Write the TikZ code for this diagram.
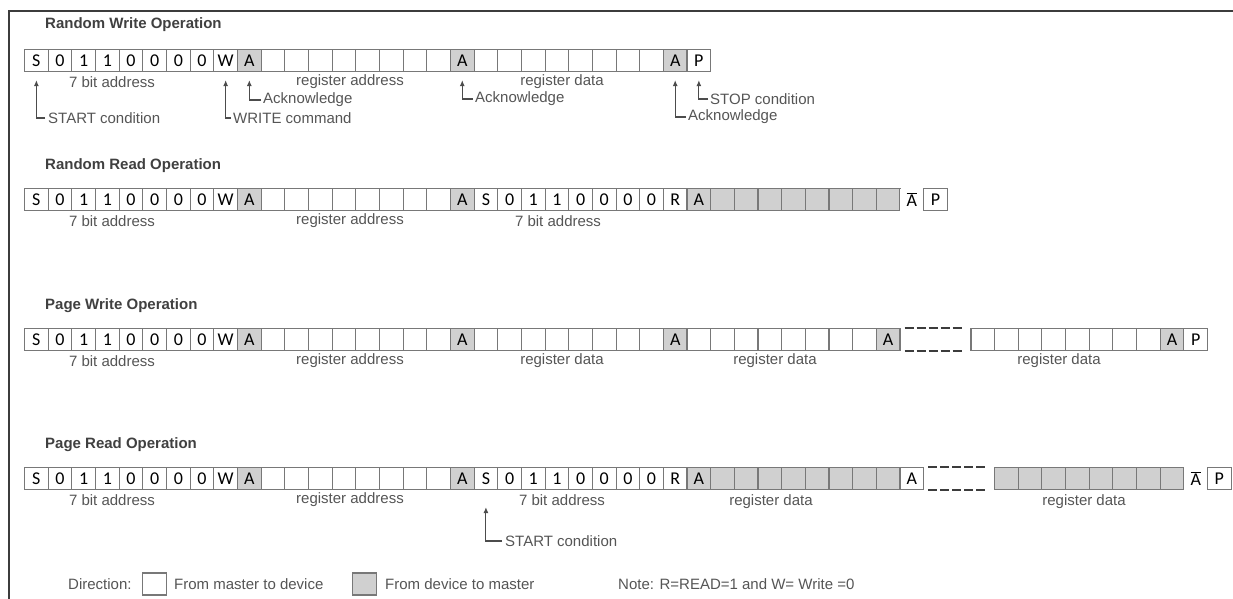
\documentclass[tikz,border=0pt]{standalone}
\usepackage{fontspec}
\setmainfont{Liberation Sans}
\newfontfamily\cellfont{Carlito}
\usepackage{tikz}
\usetikzlibrary{arrows.meta}
\definecolor{cellline}{RGB}{120,120,120}
\definecolor{devgray}{RGB}{208,208,208}
\definecolor{labgray}{RGB}{85,85,85}
\definecolor{framegray}{RGB}{60,60,60}
\newcommand{\cw}{23.66}
\newcommand{\nack}{$\overline{\mbox{A}}$}

\begin{document}
\begin{tikzpicture}[x=1pt, y=-1pt,
    cell/.style={draw=cellline, line width=1.1pt, fill=white, minimum width=23.66pt,
      minimum height=22pt, inner sep=0pt, anchor=north west,
      font=\cellfont\fontsize{18}{18}\selectfont},
    dev/.style={cell, fill=devgray},
    bare/.style={cell, draw=none},
    lbl/.style={font=\fontsize{15}{17}\selectfont, text=labgray, inner sep=0pt},
    ann/.style={lbl, anchor=west},
    title/.style={font=\bfseries\fontsize{15}{17}\selectfont, text=black!75, anchor=west, inner sep=0pt},
    arr/.style={-{Latex[length=6pt,width=5pt]}, draw=black!70, line width=1.1pt},
    gap/.style={draw=framegray, line width=1.6pt, dash pattern=on 9pt off 3pt}]
  \useasboundingbox (0,0) rectangle (1233,599);

  % frame
  \draw[framegray, line width=1.5pt] (9,599) -- (9,11) -- (1233,11);

  % titles
  \node[title] (t1) at (45,25) {Random Write Operation};
  \node[title] (t2) at (45,166) {Random Read Operation};
  \node[title] (t3) at (45,306) {Page Write Operation};
  \node[title] (t4) at (45,445) {Page Read Operation};

  % slave address and register address, same in every row
  \foreach \r/\y in {rw/49,rr/188,pw/328,pr/467} {
    \foreach \t [count=\i from 0] in {S,0,1,1,0,0,0,0,W}
      \node[cell] (\r\i) at (24+\i*\cw,\y) {\t};
    \node[dev] (\r9) at (24+9*\cw,\y) {A};
    \foreach \i in {10,...,17}
      \node[cell] (\r\i) at (24+\i*\cw,\y) {};
    \node[dev] (\r18) at (24+18*\cw,\y) {A};
    \node[lbl] (\r-bits) at (112,\y+33) {7 bit address};
    \node[lbl] (\r-reg) at (350,\y+33) {register address};
  }

  % Random Write Operation
  \foreach \i in {19,...,26}
    \node[cell] (rw\i) at (24+\i*\cw,49) {};
  \node[dev] (rw27) at (24+27*\cw,49) {A};
  \node[cell] (rw28) at (24+28*\cw,49) {P};
  \node[lbl] (rw-dat) at (562,82) {register data};

  \node[ann] (stc1) at (48,118) {START condition};
  \node[ann] (wrc) at (233,118) {WRITE command};
  \node[ann] (ack1) at (263,100) {Acknowledge};
  \node[ann] (ack2) at (475,99) {Acknowledge};
  \node[ann] (ack3) at (688,117) {Acknowledge};
  \node[ann] (stp) at (710,99) {STOP condition};
  \draw[arr] ([xshift=-3pt]stc1.west) -| ([yshift=-8pt]rw0.south);
  \draw[arr] ([xshift=-2pt]wrc.west) -| ([yshift=-8pt]rw8.south);
  \draw[arr] ([xshift=-2pt]ack1.west) -| ([yshift=-8pt]rw9.south);
  \draw[arr] ([xshift=-2pt]ack2.west) -| ([yshift=-8pt]rw18.south);
  \draw[arr] ([xshift=-2pt]ack3.west) -| ([yshift=-8pt]rw27.south);
  \draw[arr] ([xshift=-2pt]stp.west) -| ([yshift=-8pt]rw28.south);

  % Random Read Operation
  \foreach \t [count=\i from 19] in {S,0,1,1,0,0,0,0,R}
    \node[cell] (rr\i) at (24+\i*\cw,188) {\t};
  \node[dev] (rr28) at (24+28*\cw,188) {A};
  \foreach \i in {29,...,36}
    \node[dev] (rr\i) at (24+\i*\cw,188) {};
  \node[bare] (rr37) at (24+37*\cw,188) {\nack};
  \node[cell] (rr38) at (24+38*\cw,188) {P};
  \node[lbl] (rr-bits2) at (558,221) {7 bit address};

  % Page Write Operation
  \foreach \i in {19,...,26}
    \node[cell] (pw\i) at (24+\i*\cw,328) {};
  \node[dev] (pw27) at (24+27*\cw,328) {A};
  \foreach \i in {28,...,35}
    \node[cell] (pw\i) at (24+\i*\cw,328) {};
  \node[dev] (pw36) at (24+36*\cw,328) {A};
  \foreach \i in {40,...,47}
    \node[cell] (pw\i) at (24+\i*\cw,328) {};
  \node[dev] (pw48) at (24+48*\cw,328) {A};
  \node[cell] (pw49) at (24+49*\cw,328) {P};
  \draw[gap] ([xshift=4pt]pw36.north east) -- ([xshift=-6pt]pw40.north west);
  \draw[gap] ([xshift=4pt]pw36.south east) -- ([xshift=-6pt]pw40.south west);
  \node[lbl] (pw-dat1) at (562,361) {register data};
  \node[lbl] (pw-dat2) at (775,361) {register data};
  \node[lbl] (pw-dat3) at (1059,361) {register data};

  % Page Read Operation
  \foreach \t [count=\i from 19] in {S,0,1,1,0,0,0,0,R}
    \node[cell] (pr\i) at (24+\i*\cw,467) {\t};
  \node[dev] (pr28) at (24+28*\cw,467) {A};
  \foreach \i in {29,...,36}
    \node[dev] (pr\i) at (24+\i*\cw,467) {};
  \node[cell] (pr37) at (24+37*\cw,467) {A};
  \foreach \i in {41,...,48}
    \node[dev] (pr\i) at (24+\i*\cw,467) {};
  \node[bare] (pr49) at (24+49*\cw,467) {\nack};
  \node[cell] (pr50) at (24+50*\cw,467) {P};
  \draw[gap] ([xshift=4pt]pr37.north east) -- ([xshift=-6pt]pr41.north west);
  \draw[gap] ([xshift=4pt]pr37.south east) -- ([xshift=-6pt]pr41.south west);
  \node[lbl] (pr-bits2) at (562,500) {7 bit address};
  \node[lbl] (pr-dat1) at (771,502) {register data};
  \node[lbl] (pr-dat2) at (1084,502) {register data};

  \node[ann] (stc2) at (505,541) {START condition};
  \draw[arr] ([xshift=-3pt]stc2.west) -| ([yshift=-17pt]pr19.south);

  % legend
  \node[ann] (dir) at (68,584) {Direction:};
  \node[cell, anchor=west] (keyw) at (142,584) {};
  \node[ann] (keyw-txt) at (174,584) {From master to device};
  \node[dev, anchor=west] (keyg) at (352,584) {};
  \node[ann] (keyg-txt) at (385,584) {From device to master};
  \node[ann] (note) at (618,584) {Note: R=READ=1 and W= Write =0};
\end{tikzpicture}
\end{document}
